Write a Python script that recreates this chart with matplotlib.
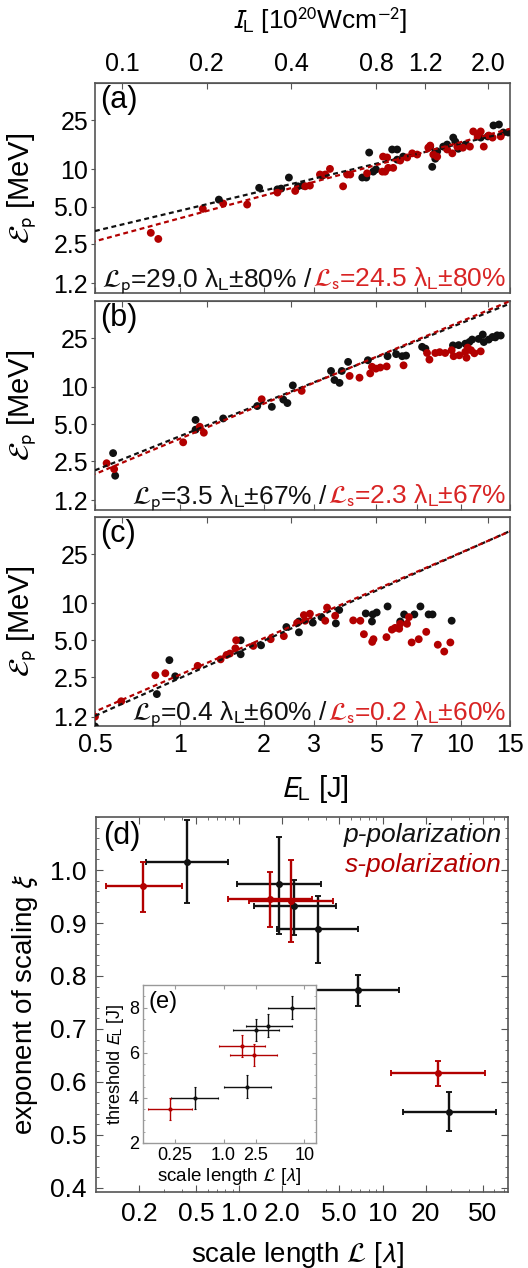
import matplotlib
matplotlib.use("Agg")
import matplotlib.pyplot as plt
import numpy as np
from matplotlib.ticker import NullLocator, AutoMinorLocator

plt.rcParams['font.family'] = ['Liberation Sans', 'DejaVu Sans']
plt.rcParams['mathtext.fontset'] = 'stixsans'

BLACK = '#111111'
DARKRED = '#b20000'
TEXTRED = '#d82424'
SPINE = '#555555'

# axis ticks
energy_ticks = [0.5, 1, 2, 3, 5, 7, 10, 15]
energy_labels = ['0.5', '1', '2', '3', '5', '7', '10', '15']
intensity_ticks = [0.1, 0.2, 0.4, 0.8, 1.2, 2.0]
intensity_labels = ['0.1', '0.2', '0.4', '0.8', '1.2', '2.0']
proton_ticks = [1.2, 2.5, 5.0, 10, 25]
proton_labels = ['1.2', '2.5', '5.0', '10', '25']
intensity_per_joule = 0.16  # I_L [1e20 W/cm2] per J of laser energy

# panel (a): E_L [J] vs proton cut-off energy [MeV]
a_p_energy = [1.38, 1.92, 2.23, 2.30, 2.45, 2.64, 2.75, 3.22, 4.47, 4.62, 4.73, 4.89, 5.0, 5.71,
              5.95, 5.95, 6.25, 7.8, 7.93, 8.13, 8.26, 8.68, 8.96, 9.42, 9.58, 9.82, 10.4, 11.8,
              12.5, 13.1, 13.7, 14.2, 14.8]
a_p_proton = [5.7, 7.1, 6.9, 7.0, 8.6, 7.3, 7.4, 8.9, 8.6, 8.6, 13.7, 9.6, 10.0, 14.5, 14.5,
              12.0, 12.7, 15.3, 10.5, 12.2, 14.0, 15.3, 15.9, 18.1, 16.8, 14.7, 15.9, 18.1, 18.5,
              22.7, 23.1, 19.9, 19.9]
a_s_energy = [0.79, 0.84, 1.21, 1.43, 1.74, 2.23, 2.58, 2.80, 2.91, 3.16, 3.30, 3.43, 3.82, 3.95,
              4.05, 4.65, 5.27, 5.39, 5.30, 5.48, 5.53, 5.76, 6.10, 6.46, 6.73, 7.01, 7.68, 7.80,
              8.0, 8.26, 8.96, 9.35, 9.74, 10.2, 10.8, 11.1, 11.5, 11.8, 12.1, 12.6, 13.0, 13.9]
a_s_proton = [3.07, 2.74, 4.8, 5.3, 5.2, 6.5, 6.7, 7.3, 7.4, 9.1, 9.1, 10.1, 7.3, 9.1, 9.1, 9.3,
              9.6, 9.6, 12.7, 12.5, 10.3, 10.3, 11.8, 12.5, 13.5, 13.2, 15.0, 15.6, 13.2, 12.7,
              14.5, 13.5, 15.3, 15.0, 15.3, 20.3, 18.8, 20.3, 15.3, 18.8, 18.1, 18.5]

# panel (b)
b_p_energy = [0.58, 0.59, 1.14, 1.14, 1.43, 1.89, 2.13, 2.34, 2.42, 2.53, 3.46, 3.56, 3.71, 3.78,
              3.98, 4.68, 5.5, 5.9, 6.2, 6.4, 7.3, 7.5, 9.4, 9.85, 10.4, 10.75, 11.0, 11.6, 12.0,
              12.1, 12.6, 13.0, 13.3, 13.5, 13.9]
b_p_proton = [2.9, 1.9, 5.4, 4.5, 5.55, 7.0, 6.9, 7.9, 7.4, 10.3, 13.5, 11.4, 10.8, 13.5, 16.0,
              16.5, 17.8, 18.5, 17.8, 18.0, 21.2, 20.5, 21.8, 21.9, 22.5, 23.2, 24.3, 24.6, 26.7,
              23.2, 24.3, 25.5, 25.3, 26.3, 26.2]
b_s_energy = [0.55, 0.585, 1.03, 1.18, 1.22, 1.96, 2.72, 4.03, 4.37, 4.77, 4.84, 5.0, 5.18, 5.46,
              6.27, 7.6, 7.75, 8.13, 8.43, 8.82, 9.3, 9.45, 9.9, 10.4, 10.5, 10.6, 10.9, 11.2, 11.8]
b_s_proton = [2.4, 2.15, 3.55, 4.75, 4.25, 7.95, 9.3, 12.3, 11.9, 12.9, 14.6, 14.1, 14.4, 14.7,
              15.0, 18.9, 16.7, 18.9, 19.2, 18.9, 19.9, 17.8, 18.1, 19.3, 17.3, 20.9, 19.9, 18.8,
              19.5]

# panel (c)
c_p_energy = [0.50, 0.83, 0.92, 0.965, 1.65, 1.65, 1.95, 2.4, 2.66, 2.66, 2.98, 3.2, 3.6, 3.7,
              4.6, 4.84, 4.87, 5.03, 5.5, 6.1, 6.3, 6.85, 7.2, 7.7, 7.95, 9.3]
c_p_proton = [1.0, 1.83, 3.45, 2.55, 5.0, 3.85, 4.55, 6.4, 5.8, 7.1, 6.95, 7.7, 6.85, 8.8, 8.25,
              7.1, 8.1, 8.4, 9.4, 7.1, 8.1, 8.1, 9.4, 8.1, 8.1, 7.2]
c_s_energy = [0.50, 0.62, 0.82, 0.89, 1.16, 1.4, 1.47, 1.51, 1.58, 1.59, 1.83, 2.11, 2.35, 2.62,
              2.77, 2.8, 2.91, 3.3, 3.35, 3.58, 4.15, 4.4, 4.53, 4.9, 4.85, 5.45, 5.7, 5.85, 6.05,
              6.1, 6.45, 6.55, 6.7, 7.1, 7.55, 8.3, 8.75, 9.2]
c_s_proton = [1.2, 1.6, 2.6, 2.7, 3.1, 3.5, 3.8, 3.9, 4.3, 5.0, 4.5, 5.1, 5.4, 6.9, 8.0, 7.2, 8.2,
              7.2, 9.2, 7.9, 7.25, 7.2, 5.6, 5.1, 4.85, 5.3, 6.1, 6.3, 6.2, 6.8, 6.8, 7.7, 4.8, 5.1,
              5.85, 4.6, 4.05, 4.8]

# power-law fits E_p = A * E_L**xi  (p-pol, s-pol) for panels a, b, c
fit_prefactor_p = [4.63, 3.97, 2.46]
fit_exponent_p = [0.544, 0.918, 1.015]
fit_prefactor_s = [4.02, 3.79, 2.62]
fit_exponent_s = [0.616, 0.952, 0.99]
scale_p = ['29.0', '3.5', '0.4']
scale_s = ['24.5', '2.3', '0.2']
scale_err = ['80', '67', '60']

# panel (d): scaling exponent vs scale length
d_p_L = [0.43, 1.88, 2.42, 3.52, 6.7, 29.0]
d_p_L_lo = [0.224, 0.958, 1.26, 1.84, 3.43, 13.9]
d_p_L_hi = [0.84, 3.73, 4.74, 6.78, 13.0, 62.0]
d_p_xi = [1.015, 0.973, 0.932, 0.888, 0.774, 0.544]
d_p_xi_lo = [0.937, 0.880, 0.877, 0.825, 0.744, 0.508]
d_p_xi_hi = [1.094, 1.063, 0.982, 0.951, 0.802, 0.581]
d_s_L = [0.214, 1.65, 2.31, 24.3]
d_s_L_lo = [0.118, 0.84, 1.17, 11.4]
d_s_L_hi = [0.396, 3.21, 4.54, 52.2]
d_s_xi = [0.969, 0.945, 0.942, 0.616]
d_s_xi_lo = [0.920, 0.893, 0.865, 0.592]
d_s_xi_hi = [1.016, 0.996, 1.019, 0.640]

# inset (e): threshold laser energy vs scale length
e_p_L = [0.443, 1.95, 2.5, 3.6, 7.0]
e_p_L_lo = [0.223, 1.0, 1.3, 1.9, 3.6]
e_p_L_hi = [0.85, 3.86, 4.9, 7.1, 13.4]
e_p_E = [4.0, 4.5, 7.0, 7.2, 8.0]
e_s_L = [0.217, 1.68, 2.35]
e_s_L_lo = [0.117, 0.87, 1.2]
e_s_L_hi = [0.40, 3.3, 4.6]
e_s_E = [3.5, 6.3, 5.9]
e_E_err = 0.5


def style_spines(ax):
    for s in ax.spines.values():
        s.set_color(SPINE)
        s.set_linewidth(1.2)


def energy_panel(ax, p_e, p_p, s_e, s_p, i, tag, top_labels, bottom_labels):
    ax.set_xscale('log')
    ax.set_yscale('log')
    ax.set_xlim(0.5, 15)
    ax.set_ylim(1.0, 50)
    ax.scatter(p_e, p_p, s=32, color=BLACK, edgecolors='none', zorder=3)
    ax.scatter(s_e, s_p, s=32, color=DARKRED, edgecolors='none', zorder=4)
    xl = np.geomspace(0.5, 15, 100)
    ax.plot(xl, fit_prefactor_p[i] * xl ** fit_exponent_p[i], color=BLACK, lw=1.6,
            ls=(0, (2.2, 1.6)), zorder=5)
    ax.plot(xl, fit_prefactor_s[i] * xl ** fit_exponent_s[i], color=DARKRED, lw=1.6,
            ls=(2.0, (2.2, 1.6)), zorder=5)

    ax.xaxis.set_minor_locator(NullLocator())
    ax.yaxis.set_minor_locator(NullLocator())
    ax.set_xticks(energy_ticks, energy_labels if bottom_labels else [''] * len(energy_ticks))
    ax.set_yticks(proton_ticks, proton_labels)
    ax.tick_params(axis='x', direction='in', length=4, labelsize=18, pad=5,
                   color=SPINE, labelbottom=bottom_labels)
    ax.tick_params(axis='y', direction='out', length=3, labelsize=18, pad=2, color=SPINE)

    sec = ax.secondary_xaxis('top', functions=(lambda e: e * intensity_per_joule,
                                               lambda i_: i_ / intensity_per_joule))
    sec.set_xticks(intensity_ticks, intensity_labels if top_labels else [''] * 6)
    sec.xaxis.set_minor_locator(NullLocator())
    sec.tick_params(direction='in', length=4, labelsize=18, pad=5, color=SPINE,
                    labeltop=top_labels)
    for s in sec.spines.values():
        s.set_color(SPINE)
    style_spines(ax)

    ax.set_ylabel(r'$\mathcal{E}_\mathrm{p}$ [MeV]', fontsize=21)
    ax.yaxis.set_label_coords(-0.135, 0.5)
    ax.text(0.012, 0.99, tag, transform=ax.transAxes, ha='left', va='top', fontsize=22)

    red = ax.text(0.99, 0.03, r'$\mathcal{L}_\mathrm{s}$=' + scale_s[i] +
                  ' λ$_\mathrm{L}$±' + scale_err[i] + '%',
                  transform=ax.transAxes, ha='right', va='baseline', fontsize=19,
                  color=TEXTRED, zorder=6)
    ax.annotate(r'$\mathcal{L}_\mathrm{p}$=' + scale_p[i] + ' λ$_\mathrm{L}$±' +
                scale_err[i] + '% / ', xy=(0, 0.03), xycoords=(red, ax.transAxes),
                ha='right', va='baseline', fontsize=19, color=BLACK, zorder=6)


fig = plt.figure(figsize=(5.28, 12.68), dpi=100)

ax_a = fig.add_axes([0.1799, 0.7689, 0.786, 0.1656])
ax_b = fig.add_axes([0.1799, 0.5978, 0.786, 0.1648])
ax_c = fig.add_axes([0.1799, 0.4271, 0.786, 0.1652])
energy_panel(ax_a, a_p_energy, a_p_proton, a_s_energy, a_s_proton, 0, '(a)', True, False)
energy_panel(ax_b, b_p_energy, b_p_proton, b_s_energy, b_s_proton, 1, '(b)', False, False)
energy_panel(ax_c, c_p_energy, c_p_proton, c_s_energy, c_s_proton, 2, '(c)', False, True)
ax_c.set_xlabel(r'$E_\mathrm{L}$ [J]', fontsize=21)
ax_c.xaxis.set_label_coords(0.53, -0.222)
fig.text(0.606, 0.984, r'$I_\mathrm{L}$ [10$^{20}$Wcm$^{-2}$]', fontsize=19,
         ha='center', va='center')

# panel (d)
ax_d = fig.add_axes([0.1818, 0.0599, 0.7803, 0.2957])
ax_d.set_xscale('log')
ax_d.set_xlim(0.1, 75)
ax_d.set_ylim(0.392, 1.10)


def err_series(ax, x, lo, hi, y, ylo, yhi, color, lw, ms, cap):
    x = np.array(x)
    y = np.array(y)
    xerr = [x - np.array(lo), np.array(hi) - x]
    if ylo is None:
        yerr = yhi
    else:
        yerr = [y - np.array(ylo), np.array(yhi) - y]
    ax.errorbar(x, y, xerr=xerr, yerr=yerr, fmt='o', color=color, ms=ms, lw=lw,
                capsize=cap, capthick=lw * 0.8, zorder=3)


err_series(ax_d, d_p_L, d_p_L_lo, d_p_L_hi, d_p_xi, d_p_xi_lo, d_p_xi_hi, BLACK, 1.7, 4, 2)
err_series(ax_d, d_s_L, d_s_L_lo, d_s_L_hi, d_s_xi, d_s_xi_lo, d_s_xi_hi, DARKRED, 1.7, 4, 2)
ax_d.set_xticks([0.2, 0.5, 1, 2, 5, 10, 20, 50],
                ['0.2', '0.5', '1.0', '2.0', '5.0', '10', '20', '50'])
ax_d.set_yticks([0.4, 0.5, 0.6, 0.7, 0.8, 0.9, 1.0],
                ['0.4', '0.5', '0.6', '0.7', '0.8', '0.9', '1.0'])
ax_d.yaxis.set_minor_locator(AutoMinorLocator(5))
ax_d.tick_params(which='both', direction='in', top=True, right=True, color=SPINE)
ax_d.tick_params(which='major', length=5, labelsize=19, pad=7)
ax_d.tick_params(which='minor', length=2.5)
style_spines(ax_d)
ax_d.set_ylabel(r'exponent of scaling $\xi$', fontsize=20)
ax_d.yaxis.set_label_coords(-0.136, 0.5)
ax_d.set_xlabel(r'scale length $\mathcal{L}$ [$\lambda$]', fontsize=20)
ax_d.xaxis.set_label_coords(0.49, -0.128)
ax_d.text(0.018, 0.99, '(d)', transform=ax_d.transAxes, ha='left', va='top', fontsize=22)
ax_d.text(0.985, 0.985, 'p-polarization', transform=ax_d.transAxes, ha='right', va='top',
          fontsize=19, style='italic', color=BLACK)
ax_d.text(0.985, 0.905, 's-polarization', transform=ax_d.transAxes, ha='right', va='top',
          fontsize=19, style='italic', color=DARKRED)

# inset (e)
ax_e = fig.add_axes([0.2708, 0.0986, 0.3277, 0.1246], zorder=5)
ax_e.set_facecolor('white')
ax_e.set_xscale('log')
ax_e.set_xlim(0.1, 14)
ax_e.set_ylim(2, 9)
err_series(ax_e, e_p_L, e_p_L_lo, e_p_L_hi, e_p_E, None, e_E_err, BLACK, 1.0, 2, 1)
err_series(ax_e, e_s_L, e_s_L_lo, e_s_L_hi, e_s_E, None, e_E_err, DARKRED, 1.0, 2, 1)
ax_e.set_xticks([0.25, 1.0, 2.5, 10], ['0.25', '1.0', '2.5', '10'])
ax_e.xaxis.set_minor_locator(NullLocator())
ax_e.set_yticks([2, 4, 6, 8], ['2', '4', '6', '8'])
ax_e.yaxis.set_minor_locator(AutoMinorLocator(4))
ax_e.tick_params(which='both', direction='in', top=True, right=True, color='#999999')
ax_e.tick_params(which='major', length=3, labelsize=13, pad=3)
ax_e.tick_params(which='minor', length=1.5)
for s in ax_e.spines.values():
    s.set_color('#999999')
    s.set_linewidth(1.0)
ax_e.set_xlabel(r'scale length $\mathcal{L}$ [$\lambda$]', fontsize=13.5, labelpad=1)
ax_e.set_ylabel(r'threshold $E_\mathrm{L}$ [J]', fontsize=13, labelpad=2)
ax_e.text(0.03, 0.96, '(e)', transform=ax_e.transAxes, ha='left', va='top', fontsize=17)

fig.savefig('out.png', dpi=100)
